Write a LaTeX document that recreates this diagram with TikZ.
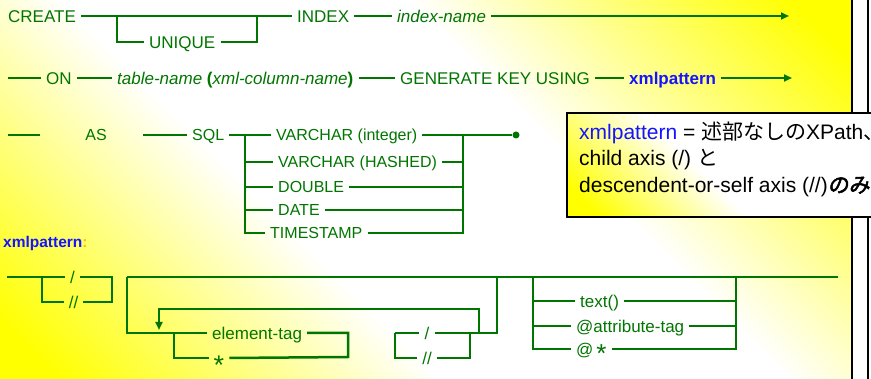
\documentclass[tikz,border=0pt]{standalone}
\usepackage{fontspec}
\setmainfont{Liberation Sans}
\newfontfamily\jpfont{Noto Sans CJK JP}
\newfontfamily\jpboldfont{Noto Sans CJK JP}[FakeBold=2.5,FakeSlant=0.15]
\usetikzlibrary{arrows.meta}
\definecolor{synGreen}{RGB}{0,118,0}
\definecolor{patBlue}{RGB}{20,20,255}
\definecolor{colonOrange}{RGB}{255,190,0}
\pgfdeclarehorizontalshading{panelbg}{100bp}{color(0bp)=(yellow); color(18bp)=(yellow); color(40bp)=(white); color(60bp)=(white); color(82bp)=(yellow); color(100bp)=(yellow)}
\pgfdeclarehorizontalshading{notebg}{100bp}{color(0bp)=(yellow); color(20bp)=(yellow); color(45bp)=(white); color(100bp)=(white)}
\begin{document}
\begin{tikzpicture}[
    rail/.style={draw=synGreen, line width=2.5pt},
    arr/.style={rail, -{Triangle[length=8pt,width=7pt]}},
    kw/.style={text=synGreen, font=\fontsize{17}{20}\selectfont, inner xsep=5pt, inner ysep=0pt, text height=12.2pt, text depth=0pt, anchor=west},
    typ/.style={kw, font=\fontsize{16}{19}\selectfont, text height=11.5pt},
    var/.style={kw, font=\fontsize{17}{20}\selectfont\itshape},
    dot/.style={circle, fill=synGreen, inner sep=0pt, minimum size=7pt},
    note/.style={anchor=base west, inner sep=0pt, font=\fontsize{21}{26}\selectfont}
  ]
    \useasboundingbox (0pt,0pt) rectangle (871pt,-379pt);
    \clip (0pt,0pt) rectangle (871pt,-379pt);
    \fill[white] (0pt,0pt) rectangle (871pt,-379pt);
    \shade[shading=panelbg, shading angle=45] (-2pt,2pt) rectangle (852pt,-381pt);
    \draw[line width=2pt] (852pt,2pt) -- (852pt,-381pt);
    \draw[line width=2pt] (868pt,2pt) -- (868pt,-381pt);

    \node[kw] (create) at (3pt,-16pt) {CREATE};
    \node[kw] (unique) at (144pt,-42pt) {UNIQUE};
    \node[kw] (index) at (292pt,-16pt) {INDEX};
    \node[var] (idxname) at (392pt,-16pt) {index-name};
    \coordinate (u1) at (117pt,-16pt);
    \coordinate (u2) at (257pt,-16pt);
    \coordinate (e1) at (789pt,-16pt);
    \draw[rail] (create.east) -- (index.west);
    \draw[rail] (u1) |- (unique.west);
    \draw[rail] (unique.east) -| (u2);
    \draw[rail] (index.east) -- (idxname.west);
    \draw[arr] (idxname.east) -- (e1);

    \coordinate (s2) at (8pt,-78pt);
    \node[kw] (on) at (41pt,-78pt) {ON};
    \node[kw] (tbl) at (112pt,-78pt) {\textit{table-name} \textbf{(}\textit{xml-column-name}\textbf{)}};
    \node[kw] (gen) at (395pt,-78pt) {GENERATE KEY USING};
    \node[kw, text=patBlue, font=\fontsize{17}{20}\selectfont\bfseries] (pat) at (624pt,-78pt) {xmlpattern};
    \coordinate (e2) at (792pt,-78pt);
    \draw[rail] (s2) -- (on.west);
    \draw[rail] (on.east) -- (tbl.west);
    \draw[rail] (tbl.east) -- (gen.west);
    \draw[rail] (gen.east) -- (pat.west);
    \draw[arr] (pat.east) -- (e2);

    \coordinate (s3a) at (8pt,-135pt);
    \coordinate (s3b) at (40pt,-135pt);
    \coordinate (s3c) at (143pt,-135pt);
    \node[typ, anchor=center] (as) at (96pt,-135pt) {AS};
    \node[typ] (sql) at (187pt,-135pt) {SQL};
    \node[typ] (t1) at (271pt,-135pt) {VARCHAR (integer)};
    \node[typ] (t2) at (273pt,-162pt) {VARCHAR (HASHED)};
    \node[typ] (t3) at (273pt,-187pt) {DOUBLE};
    \node[typ] (t4) at (273pt,-210pt) {DATE};
    \node[typ] (t5) at (265pt,-233pt) {TIMESTAMP};
    \node[dot] (end3) at (516pt,-135pt) {};
    \coordinate (b1) at (245pt,-135pt);
    \coordinate (b2) at (463pt,-135pt);
    \draw[rail] (s3a) -- (s3b);
    \draw[rail] (s3c) -- (sql.west);
    \draw[rail] (sql.east) -- (t1.west);
    \draw[rail] (b1) |- (t5.west);
    \foreach \t in {t2,t3,t4} \draw[rail] (b1 |- \t.west) -- (\t.west);
    \draw[rail] (t1.east) -- (end3);
    \draw[rail] (t5.east) -| (b2);
    \foreach \t in {t2,t3,t4} \draw[rail] (\t.east) -- (b2 |- \t.east);

    \node[anchor=west, inner sep=0pt, font=\fontsize{15.5}{18}\selectfont\bfseries] (patlbl) at (3pt,-243pt) {\textcolor{patBlue}{xmlpattern}\textcolor{colonOrange}{:}};

    \coordinate (p0) at (7pt,-277pt);
    \coordinate (p1) at (42pt,-277pt);
    \coordinate (p2) at (112pt,-277pt);
    \coordinate (p3) at (127pt,-277pt);
    \coordinate (p9) at (838pt,-277pt);
    \node[kw, anchor=center] (sl1) at (72.5pt,-277pt) {/};
    \node[kw, anchor=center] (dsl1) at (73.5pt,-302pt) {//};
    \draw[rail] (p0) -- (sl1.west);
    \draw[rail] (p1) |- (dsl1.west);
    \draw[rail] (dsl1.east) -| (p2) -- (sl1.east);
    \draw[rail] (p3) -- (p9);

    \node[kw] (etag) at (207pt,-333pt) {element-tag};
    \node[kw, anchor=center] (star) at (219pt,-358pt) {\fontsize{27}{27}\selectfont\raisebox{-10pt}{*}};
    \coordinate (c2) at (174pt,-333pt);
    \coordinate (j2) at (348pt,-357pt);
    \draw[rail] (p3) |- (etag.west);
    \draw[rail] (c2) |- (star.west);
    \draw[rail] (etag.east) -| (j2) -- (star.east);

    \node[kw, anchor=center] (sl2) at (427pt,-333pt) {/};
    \node[kw, anchor=center] (dsl2) at (427pt,-358pt) {//};
    \coordinate (k1) at (395pt,-333pt);
    \coordinate (k2) at (470pt,-333pt);
    \coordinate (k4) at (497pt,-277pt);
    \draw[rail] (k1) -- (sl2.west);
    \draw[rail] (k1) |- (dsl2.west);
    \draw[rail] (dsl2.east) -| (k2);
    \draw[rail] (sl2.east) -- (k2) -| (k4);

    \coordinate (lp1) at (479pt,-333pt);
    \coordinate (lp2) at (159pt,-309pt);
    \coordinate (lp3) at (159pt,-330pt);
    \draw[arr] (lp1) |- (lp2) -- (lp3);

    \node[kw] (tfn) at (575pt,-301pt) {text()};
    \node[kw] (attr) at (571pt,-326pt) {@attribute-tag};
    \node[kw] (anyattr) at (571pt,-349pt) {@\,\fontsize{26}{26}\selectfont\raisebox{-7pt}{*}};
    \coordinate (r1) at (533pt,-277pt);
    \coordinate (r2) at (736pt,-277pt);
    \draw[rail] (r1) |- (anyattr.west);
    \draw[rail] (r1 |- tfn.west) -- (tfn.west);
    \draw[rail] (r1 |- attr.west) -- (attr.west);
    \draw[rail] (anyattr.east) -| (r2);
    \draw[rail] (tfn.east) -- (r2 |- tfn.east);
    \draw[rail] (attr.east) -- (r2 |- attr.east);

    \shade[shading=notebg, shading angle=45] (567pt,-113pt) rectangle (885pt,-217pt);
    \draw[line width=2pt] (567pt,-113pt) rectangle (885pt,-217pt);
    \node[note] (note1) at (579pt,-139.5pt) {\textcolor{patBlue}{xmlpattern} = {\jpfont 述部なしの}XPath{\jpfont 、}};
    \node[note] (note2) at (579pt,-165.5pt) {child axis (/) {\jpfont と}};
    \node[note] (note3) at (579pt,-192.5pt) {descendent-or-self axis (//){\jpboldfont のみ}};
\end{tikzpicture}
\end{document}
